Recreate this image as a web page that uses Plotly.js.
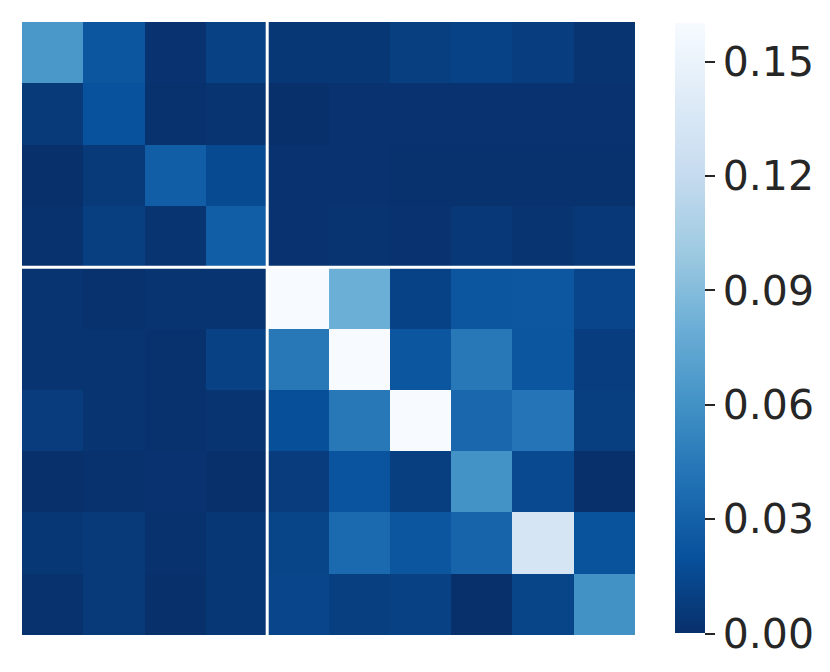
<!DOCTYPE html>
<html>
<head>
<meta charset="utf-8">
<script src="https://cdn.plot.ly/plotly-3.0.1.min.js"></script>
<style>
  body { margin: 0; background: #fff; }
  #heat { width: 830px; height: 672px; }
</style>
</head>
<body>
<div id="heat"></div>
<script>
// rows top to bottom, columns left to right
var rowIdx = [0, 1, 2, 3, 4, 5, 6, 7, 8, 9];
var colIdx = [0, 1, 2, 3, 4, 5, 6, 7, 8, 9];

var row0 = [0.064, 0.023, 0.002, 0.010, 0.004, 0.004, 0.009, 0.011, 0.008, 0.003];
var row1 = [0.006, 0.020, 0.001, 0.003, 0.000, 0.002, 0.002, 0.002, 0.002, 0.002];
var row2 = [0.000, 0.006, 0.028, 0.016, 0.002, 0.002, 0.001, 0.001, 0.001, 0.001];
var row3 = [0.001, 0.009, 0.003, 0.028, 0.002, 0.003, 0.002, 0.005, 0.003, 0.005];
var row4 = [0.003, 0.001, 0.003, 0.003, 0.160, 0.080, 0.011, 0.023, 0.024, 0.013];
var row5 = [0.003, 0.003, 0.001, 0.010, 0.044, 0.160, 0.023, 0.044, 0.023, 0.008];
var row6 = [0.007, 0.003, 0.001, 0.003, 0.019, 0.044, 0.160, 0.034, 0.042, 0.009];
var row7 = [0.000, 0.001, 0.002, 0.000, 0.007, 0.022, 0.009, 0.061, 0.015, 0.000];
var row8 = [0.004, 0.006, 0.001, 0.004, 0.012, 0.035, 0.023, 0.032, 0.133, 0.021];
var row9 = [0.001, 0.006, 0.000, 0.004, 0.013, 0.009, 0.010, 0.000, 0.012, 0.060];

var cbTicks = [0, 0.03, 0.06, 0.09, 0.12, 0.15];
var cbLabels = ["0.00", "0.03", "0.06", "0.09", "0.12", "0.15"];

// matplotlib Blues, reversed
var bluesR = [
  [0.0, "#08306b"], [0.125, "#08519c"], [0.25, "#2171b5"],
  [0.375, "#4292c6"], [0.5, "#6baed6"], [0.625, "#9ecae1"],
  [0.75, "#c6dbef"], [0.875, "#deebf7"], [1.0, "#f7fbff"]
];

var trace = {
  type: "heatmap",
  x: colIdx,
  y: rowIdx,
  z: [row0, row1, row2, row3, row4, row5, row6, row7, row8, row9],
  zmin: 0,
  zmax: 0.16,
  colorscale: bluesR,
  hoverinfo: "skip",
  colorbar: {
    x: 1.065, xanchor: "left",
    y: 0.5, yanchor: "middle",
    len: 0.995, ypad: 0, xpad: 0,
    thickness: 30,
    outlinewidth: 0,
    tickvals: cbTicks,
    ticktext: cbLabels,
    ticks: "outside",
    ticklen: 10,
    tickwidth: 2,
    tickcolor: "#262626",
    tickfont: { family: "DejaVu Sans", size: 41, color: "#262626" }
  }
};

var layout = {
  width: 830,
  height: 672,
  margin: { l: 22, r: 195, t: 22, b: 37 },
  paper_bgcolor: "#fff",
  plot_bgcolor: "#fff",
  xaxis: { range: [-0.5, 9.5], showticklabels: false, showgrid: false, zeroline: false, ticks: "" },
  yaxis: { range: [9.5, -0.5], showticklabels: false, showgrid: false, zeroline: false, ticks: "" },
  shapes: [
    { type: "line", xref: "x", yref: "y", x0: 3.5, x1: 3.5, y0: -0.5, y1: 9.5,
      line: { color: "#fff", width: 3 } },
    { type: "line", xref: "x", yref: "y", x0: -0.5, x1: 9.5, y0: 3.5, y1: 3.5,
      line: { color: "#fff", width: 3 } }
  ]
};

Plotly.newPlot("heat", [trace], layout, { staticPlot: true });
</script>
</body>
</html>
